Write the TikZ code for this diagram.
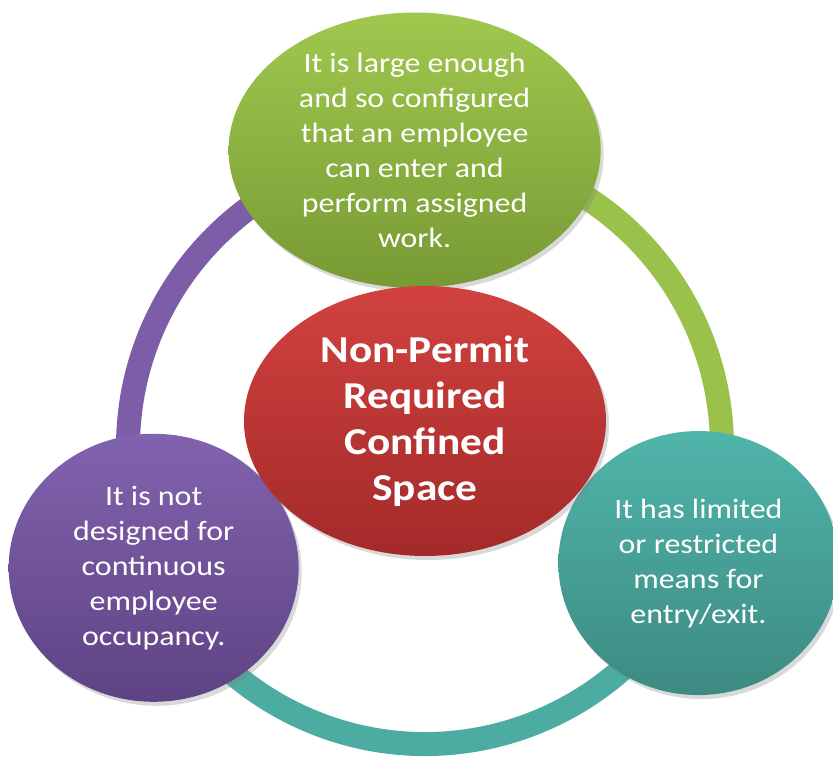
\documentclass[tikz,border=0pt]{standalone}
\usepackage{fontspec}
\setmainfont{Carlito}[FakeStretch=1.14]
\usetikzlibrary{positioning,shapes.geometric,shadows}
\definecolor{grnT}{HTML}{A0C84E}
\definecolor{grnB}{HTML}{779A34}
\definecolor{redT}{HTML}{D1423F}
\definecolor{redB}{HTML}{A32A29}
\definecolor{purT}{HTML}{8262AE}
\definecolor{purB}{HTML}{5E4384}
\definecolor{tealT}{HTML}{50B5AA}
\definecolor{tealB}{HTML}{3D8A82}
\pgfdeclarelayer{back}
\pgfsetlayers{back,main}

\begin{document}
\begin{tikzpicture}[x=1pt,y=1pt,
item/.style={ellipse,inner sep=0pt,align=center,text=white,
font=\fontsize{28}{35}\selectfont,
drop shadow={opacity=0.3,shadow xshift=3pt,shadow yshift=-4pt}},
band/.style={line width=24pt},
green band/.style={draw=grnT!85!grnB},
teal band/.style={draw=tealT!80!tealB},
purple band/.style={draw=purT!85!purB}]
 \useasboundingbox (-425,-312) rectangle (408,447);

 \node[item,minimum width=372pt,minimum height=270pt,top color=grnT,
 bottom color=grnB] (green) at (92:297) {It is large enough\\and so
 configured\\that an employee\\can enter and\\perform assigned\\work.};
 \node[item,minimum width=280pt,minimum height=264pt,top color=tealT,
 bottom color=tealB] (teal) at (-23:297) {It has limited\\or
 restricted\\means for\\entry/exit.};
 \node[item,minimum width=290pt,minimum height=268pt,top color=purT,
 bottom color=purB] (purple) at (204:297) {It is not\\designed
 for\\continuous\\employee\\occupancy.};
 \node[item,minimum width=362pt,minimum height=270pt,top color=redT,
 bottom color=redB,font=\bfseries\fontsize{38}{46}\selectfont] (red)
 at (0,26) {Non-Permit\\Required\\Confined\\Space};

 \begin{pgfonlayer}{back}
 \foreach \X/\S/\E in {green/92/-23,teal/-23/-156,purple/204/92}
 {\draw[band,\X\space band] (\X.center) arc[start angle=\S,end
 angle=\E,radius=297];}
 \end{pgfonlayer}
\end{tikzpicture}
\end{document}
